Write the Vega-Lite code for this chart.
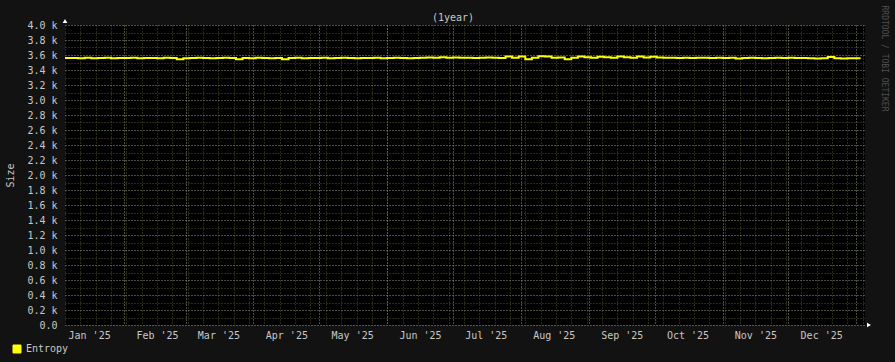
{
  "$schema": "https://vega.github.io/schema/vega-lite/v6.json",
  "width": 800,
  "height": 300,
  "autosize": {"type": "none"},
  "padding": {"left": 65, "top": 25, "right": 30, "bottom": 37},
  "background": "#121212",
  "title": {"text": "(1year)", "orient": "top", "anchor": "middle", "frame": "group", "baseline": "bottom", "offset": -16, "dy": 12, "dx": -12, "font": "DejaVu Sans Mono", "fontSize": 10, "fontWeight": "normal", "color": "#c8c8c8"},
  "config": {
    "view": {"fill": "#000000", "stroke": null},
    "axis": {"labelFont": "DejaVu Sans Mono", "titleFont": "DejaVu Sans Mono", "labelColor": "#c8c8c8", "titleColor": "#c8c8c8", "labelFontSize": 10, "titleFontSize": 10, "titleFontWeight": "normal"},
    "legend": {"labelFont": "DejaVu Sans Mono", "labelColor": "#c8c8c8", "labelFontSize": 10}
  },
  "data": {"values": [
    {"t":"2025-01-05","v":3560,"s":"Entropy"},{"t":"2025-01-08","v":3560,"s":"Entropy"},{"t":"2025-01-11","v":3558,"s":"Entropy"},{"t":"2025-01-14","v":3562,"s":"Entropy"},{"t":"2025-01-17","v":3558,"s":"Entropy"},{"t":"2025-01-20","v":3560,"s":"Entropy"},{"t":"2025-01-23","v":3562,"s":"Entropy"},{"t":"2025-01-26","v":3558,"s":"Entropy"},{"t":"2025-01-29","v":3560,"s":"Entropy"},{"t":"2025-02-01","v":3560,"s":"Entropy"},
    {"t":"2025-02-04","v":3562,"s":"Entropy"},{"t":"2025-02-07","v":3558,"s":"Entropy"},{"t":"2025-02-10","v":3560,"s":"Entropy"},{"t":"2025-02-13","v":3560,"s":"Entropy"},{"t":"2025-02-16","v":3558,"s":"Entropy"},{"t":"2025-02-19","v":3562,"s":"Entropy"},{"t":"2025-02-22","v":3560,"s":"Entropy"},{"t":"2025-02-25","v":3542,"s":"Entropy"},{"t":"2025-02-28","v":3558,"s":"Entropy"},{"t":"2025-03-03","v":3560,"s":"Entropy"},
    {"t":"2025-03-06","v":3562,"s":"Entropy"},{"t":"2025-03-09","v":3560,"s":"Entropy"},{"t":"2025-03-12","v":3558,"s":"Entropy"},{"t":"2025-03-15","v":3560,"s":"Entropy"},{"t":"2025-03-18","v":3562,"s":"Entropy"},{"t":"2025-03-21","v":3560,"s":"Entropy"},{"t":"2025-03-24","v":3545,"s":"Entropy"},{"t":"2025-03-27","v":3560,"s":"Entropy"},{"t":"2025-03-30","v":3558,"s":"Entropy"},{"t":"2025-04-02","v":3562,"s":"Entropy"},
    {"t":"2025-04-05","v":3560,"s":"Entropy"},{"t":"2025-04-08","v":3558,"s":"Entropy"},{"t":"2025-04-11","v":3560,"s":"Entropy"},{"t":"2025-04-14","v":3545,"s":"Entropy"},{"t":"2025-04-17","v":3560,"s":"Entropy"},{"t":"2025-04-20","v":3562,"s":"Entropy"},{"t":"2025-04-23","v":3558,"s":"Entropy"},{"t":"2025-04-26","v":3560,"s":"Entropy"},{"t":"2025-04-29","v":3560,"s":"Entropy"},{"t":"2025-05-02","v":3562,"s":"Entropy"},
    {"t":"2025-05-05","v":3558,"s":"Entropy"},{"t":"2025-05-08","v":3560,"s":"Entropy"},{"t":"2025-05-11","v":3562,"s":"Entropy"},{"t":"2025-05-14","v":3560,"s":"Entropy"},{"t":"2025-05-17","v":3558,"s":"Entropy"},{"t":"2025-05-20","v":3560,"s":"Entropy"},{"t":"2025-05-23","v":3560,"s":"Entropy"},{"t":"2025-05-26","v":3562,"s":"Entropy"},{"t":"2025-05-29","v":3558,"s":"Entropy"},{"t":"2025-06-01","v":3560,"s":"Entropy"},
    {"t":"2025-06-04","v":3562,"s":"Entropy"},{"t":"2025-06-07","v":3560,"s":"Entropy"},{"t":"2025-06-10","v":3558,"s":"Entropy"},{"t":"2025-06-13","v":3560,"s":"Entropy"},{"t":"2025-06-16","v":3565,"s":"Entropy"},{"t":"2025-06-19","v":3568,"s":"Entropy"},{"t":"2025-06-22","v":3562,"s":"Entropy"},{"t":"2025-06-25","v":3570,"s":"Entropy"},{"t":"2025-06-28","v":3565,"s":"Entropy"},{"t":"2025-07-01","v":3568,"s":"Entropy"},
    {"t":"2025-07-04","v":3562,"s":"Entropy"},{"t":"2025-07-07","v":3565,"s":"Entropy"},{"t":"2025-07-10","v":3560,"s":"Entropy"},{"t":"2025-07-13","v":3565,"s":"Entropy"},{"t":"2025-07-16","v":3568,"s":"Entropy"},{"t":"2025-07-19","v":3562,"s":"Entropy"},{"t":"2025-07-22","v":3560,"s":"Entropy"},{"t":"2025-07-25","v":3580,"s":"Entropy"},{"t":"2025-07-28","v":3565,"s":"Entropy"},{"t":"2025-07-31","v":3580,"s":"Entropy"},
    {"t":"2025-08-03","v":3545,"s":"Entropy"},{"t":"2025-08-06","v":3565,"s":"Entropy"},{"t":"2025-08-09","v":3582,"s":"Entropy"},{"t":"2025-08-12","v":3580,"s":"Entropy"},{"t":"2025-08-15","v":3565,"s":"Entropy"},{"t":"2025-08-18","v":3568,"s":"Entropy"},{"t":"2025-08-21","v":3542,"s":"Entropy"},{"t":"2025-08-24","v":3565,"s":"Entropy"},{"t":"2025-08-27","v":3580,"s":"Entropy"},{"t":"2025-08-30","v":3570,"s":"Entropy"},
    {"t":"2025-09-02","v":3565,"s":"Entropy"},{"t":"2025-09-05","v":3578,"s":"Entropy"},{"t":"2025-09-08","v":3570,"s":"Entropy"},{"t":"2025-09-11","v":3565,"s":"Entropy"},{"t":"2025-09-14","v":3580,"s":"Entropy"},{"t":"2025-09-17","v":3570,"s":"Entropy"},{"t":"2025-09-20","v":3565,"s":"Entropy"},{"t":"2025-09-23","v":3580,"s":"Entropy"},{"t":"2025-09-26","v":3568,"s":"Entropy"},{"t":"2025-09-29","v":3578,"s":"Entropy"},
    {"t":"2025-10-02","v":3568,"s":"Entropy"},{"t":"2025-10-05","v":3565,"s":"Entropy"},{"t":"2025-10-08","v":3562,"s":"Entropy"},{"t":"2025-10-11","v":3560,"s":"Entropy"},{"t":"2025-10-14","v":3562,"s":"Entropy"},{"t":"2025-10-17","v":3560,"s":"Entropy"},{"t":"2025-10-20","v":3565,"s":"Entropy"},{"t":"2025-10-23","v":3562,"s":"Entropy"},{"t":"2025-10-26","v":3560,"s":"Entropy"},{"t":"2025-10-29","v":3562,"s":"Entropy"},
    {"t":"2025-11-01","v":3560,"s":"Entropy"},{"t":"2025-11-04","v":3562,"s":"Entropy"},{"t":"2025-11-07","v":3555,"s":"Entropy"},{"t":"2025-11-10","v":3560,"s":"Entropy"},{"t":"2025-11-13","v":3562,"s":"Entropy"},{"t":"2025-11-16","v":3560,"s":"Entropy"},{"t":"2025-11-19","v":3556,"s":"Entropy"},{"t":"2025-11-22","v":3560,"s":"Entropy"},{"t":"2025-11-25","v":3562,"s":"Entropy"},{"t":"2025-11-28","v":3560,"s":"Entropy"},
    {"t":"2025-12-01","v":3562,"s":"Entropy"},{"t":"2025-12-04","v":3560,"s":"Entropy"},{"t":"2025-12-07","v":3560,"s":"Entropy"},{"t":"2025-12-10","v":3556,"s":"Entropy"},{"t":"2025-12-13","v":3555,"s":"Entropy"},{"t":"2025-12-16","v":3556,"s":"Entropy"},{"t":"2025-12-19","v":3575,"s":"Entropy"},{"t":"2025-12-22","v":3556,"s":"Entropy"},{"t":"2025-12-25","v":3555,"s":"Entropy"},{"t":"2025-12-28","v":3556,"s":"Entropy"},{"t":"2025-12-31","v":3556,"s":"Entropy"},{"t":"2026-01-03","v":3556,"s":"Entropy"}
  ]},
  "resolve": {"axis": {"x": "independent", "y": "independent"}},
  "layer": [
    {
      "mark": {"type": "line", "opacity": 0},
      "encoding": {
        "x": {"field": "t", "type": "temporal",
          "scale": {"type": "utc", "domain": [{"year": 2025, "month": 1, "date": 5, "utc": true}, {"year": 2026, "month": 1, "date": 5, "utc": true}]},
          "axis": {"orient": "bottom", "title": null, "labels": false, "ticks": false, "domain": false, "grid": true, "gridColor": "#505028", "gridDash": [1, 2], "tickCount": {"interval": "week", "step": 1}}},
        "y": {"field": "v", "type": "quantitative",
          "scale": {"domain": [0, 4000], "nice": false, "zero": true},
          "axis": {"orient": "left", "title": null, "labels": false, "ticks": false, "domain": false, "grid": true, "gridColor": "#505028", "gridDash": [1, 2],
            "values": [100,300,500,700,900,1100,1300,1500,1700,1900,2100,2300,2500,2700,2900,3100,3300,3500,3700,3900]}}
      }
    },
    {
      "mark": {"type": "line", "opacity": 0},
      "encoding": {
        "x": {"field": "t", "type": "temporal",
          "axis": {"orient": "bottom", "title": null, "labels": false, "ticks": false, "domain": false, "grid": true, "gridColor": "#8a9a80", "gridDash": [1, 2], "tickCount": {"interval": "month", "step": 1}}},
        "y": {"field": "v", "type": "quantitative",
          "axis": {"orient": "left", "title": "Size", "titlePadding": 11, "labels": true, "labelPadding": 8, "ticks": false, "domain": false, "grid": true, "gridColor": "#8a9a80", "gridDash": [1, 2],
            "values": [0,200,400,600,800,1000,1200,1400,1600,1800,2000,2200,2400,2600,2800,3000,3200,3400,3600,3800,4000],
            "labelExpr": "datum.value == 0 ? '0.0' : format(datum.value / 1000, '.1f') + ' k'"}}
      }
    },
    {
      "mark": {"type": "line", "opacity": 0},
      "encoding": {
        "x": {"field": "t", "type": "temporal",
          "axis": {"orient": "bottom", "title": null, "labels": true, "ticks": false, "domain": false, "grid": false, "labelPadding": 5,
            "values": [
              {"year": 2025, "month": 1, "date": 16, "utc": true},
              {"year": 2025, "month": 2, "date": 16, "utc": true},
              {"year": 2025, "month": 3, "date": 16, "utc": true},
              {"year": 2025, "month": 4, "date": 16, "utc": true},
              {"year": 2025, "month": 5, "date": 16, "utc": true},
              {"year": 2025, "month": 6, "date": 16, "utc": true},
              {"year": 2025, "month": 7, "date": 16, "utc": true},
              {"year": 2025, "month": 8, "date": 16, "utc": true},
              {"year": 2025, "month": 9, "date": 16, "utc": true},
              {"year": 2025, "month": 10, "date": 16, "utc": true},
              {"year": 2025, "month": 11, "date": 16, "utc": true},
              {"year": 2025, "month": 12, "date": 16, "utc": true}
            ],
            "labelExpr": "utcFormat(datum.value, \"%b '%y\")", "labelOverlap": false}},
        "y": {"field": "v", "type": "quantitative",
          "axis": {"orient": "right", "title": "RRDTOOL / TOBI OETIKER", "titleAngle": 90, "titleAlign": "left", "titleBaseline": "middle", "titleY": -20, "titlePadding": 18, "titleColor": "#505050", "titleFontSize": 8, "labels": false, "ticks": false, "domain": false, "grid": false}}
      }
    },
    {
      "mark": {"type": "line", "interpolate": "step-after", "strokeWidth": 2},
      "encoding": {
        "x": {"field": "t", "type": "temporal", "axis": null},
        "y": {"field": "v", "type": "quantitative", "axis": null},
        "color": {"field": "s", "type": "nominal", "scale": {"range": ["#ffff00"]},
          "legend": {"title": null, "orient": "none", "legendX": -53, "legendY": 319, "symbolType": "square", "symbolSize": 64, "symbolStrokeColor": "#888888", "symbolStrokeWidth": 1, "symbolFillColor": "#ffff00", "padding": 0}}
      }
    },
    {
      "data": {"values": [{}]},
      "mark": {"type": "point", "shape": "triangle-up", "filled": true, "color": "#ffffff", "size": 22, "opacity": 1, "yOffset": -4},
      "encoding": {
        "x": {"datum": {"year": 2025, "month": 1, "date": 5, "utc": true}, "type": "temporal", "axis": null},
        "y": {"datum": 4000, "type": "quantitative", "axis": null}
      }
    },
    {
      "data": {"values": [{}]},
      "mark": {"type": "point", "shape": "triangle-right", "filled": true, "color": "#ffffff", "size": 22, "opacity": 1, "xOffset": 4},
      "encoding": {
        "x": {"datum": {"year": 2026, "month": 1, "date": 5, "utc": true}, "type": "temporal", "axis": null},
        "y": {"datum": 0, "type": "quantitative", "axis": null}
      }
    }
  ]
}
